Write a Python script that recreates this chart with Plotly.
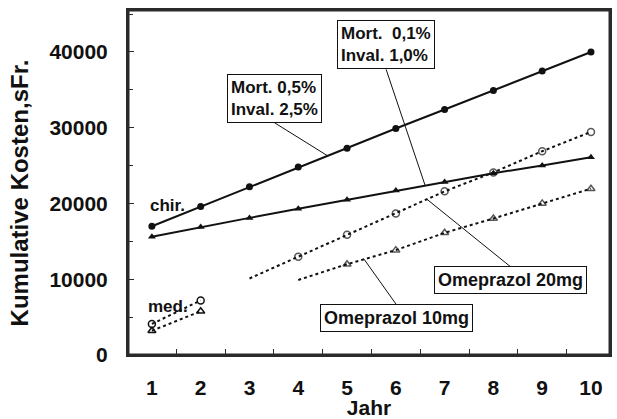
import numpy as np
import plotly.graph_objects as go

years = [1, 2, 3, 4, 5, 6, 7, 8, 9, 10]
chir_mort05 = [17000, 19600, 22200, 24800, 27300, 29900, 32400, 34900, 37500, 40000]
chir_mort01 = [15600, 16900, 18100, 19300, 20500, 21700, 22850, 24000, 25000, 26100]
ome20 = [4100, 7200, 10100, 12980, 15870, 18670, 21600, 24100, 26900, 29450]
ome10 = [3200, 5770, 7850, 9900, 11990, 13840, 16130, 18020, 20010, 21950]
xtick_labels = ["1", "2", "3", "4", "5", "6", "7", "8", "9", "10"]
ytick_vals = [0, 10000, 20000, 30000, 40000]
ytick_labels = ["0", "10000", "20000", "30000", "40000"]

FONT = "Liberation Sans, Arial, sans-serif"
INK = "#111111"
FRAME = "#2a2a2a"

fig = go.Figure()

# surgical therapy (solid lines)
fig.add_trace(go.Scatter(x=years, y=chir_mort05, mode="lines+markers",
                         line=dict(color=INK, width=2),
                         marker=dict(symbol="circle", size=7, color=INK)))
fig.add_trace(go.Scatter(x=years, y=chir_mort01, mode="lines+markers",
                         line=dict(color=INK, width=2),
                         marker=dict(symbol="triangle-up", size=7, color=INK)))

# medical therapy (dotted lines): first segment (years 1-2) and main segment
def seg(x, y, start, stop):
    return x[start:stop], y[start:stop]

for arr, sym, first_main in [(ome20, "circle-open", 2), (ome10, "triangle-up-open", 3)]:
    xs, ys = seg(years, arr, 0, 2)
    fig.add_trace(go.Scatter(x=xs, y=ys, mode="lines+markers",
                             line=dict(color=INK, width=2, dash="dot"),
                             marker=dict(symbol=sym, size=7, color=INK,
                                         line=dict(width=1.5, color=INK))))
    xs, ys = seg(years, arr, first_main, 10)
    sizes = [0] + [7] * (len(xs) - 1)
    fig.add_trace(go.Scatter(x=xs, y=ys, mode="lines+markers",
                             line=dict(color=INK, width=2, dash="dot"),
                             marker=dict(symbol=sym, size=sizes, color=INK,
                                         line=dict(width=1.5, color=INK))))

def box(text, xv, series, ax, ay, yanchor, size):
    yv = float(np.interp(xv, years, series))
    fig.add_annotation(x=xv, y=yv, text=text, showarrow=True, arrowhead=0,
                       arrowwidth=1, arrowcolor=INK, ax=ax, ay=ay,
                       xanchor="center", yanchor=yanchor,
                       bordercolor=INK, borderwidth=1, borderpad=3,
                       bgcolor="white", align="left",
                       font=dict(family=FONT, size=size, color=INK, weight="bold"))

box("Mort. 0,5%<br>Inval. 2,5%", 4.6, chir_mort05, -53, -33, "bottom", 17)
box("Mort.  0,1%<br>Inval. 1,0%", 6.6, chir_mort01, -39, -116, "bottom", 17)
box("Omeprazol 20mg", 6.64, ome20, 83, 67, "top", 18)
box("Omeprazol 10mg", 5.35, ome10, 32, 45, "top", 18)

lbl_font = dict(family=FONT, size=17, color=INK, weight="bold")
fig.add_annotation(x=0.92, y=19700, text="chir.", showarrow=False,
                   xanchor="left", yanchor="middle", font=lbl_font)
fig.add_annotation(x=0.88, y=6400, text="med.", showarrow=False,
                   xanchor="left", yanchor="middle", font=lbl_font)

# y-axis title
fig.add_annotation(xref="paper", yref="paper", x=-0.225, y=0.47,
                   text="Kumulative Kosten,sFr.", textangle=-90, showarrow=False,
                   xanchor="center", yanchor="middle",
                   font=dict(family=FONT, size=24, color=INK, weight="bold"))

# plot frame
fig.add_shape(type="rect", xref="paper", yref="paper", x0=0, y0=0, x1=1, y1=1,
              line=dict(color=FRAME, width=3), layer="above")

tick_font = dict(family=FONT, size=21, color=INK, weight="bold")

fig.update_layout(
    width=617, height=419,
    margin=dict(l=128, r=5, t=10, b=57),
    paper_bgcolor="white", plot_bgcolor="white",
    showlegend=False,
    xaxis=dict(range=[0.51, 10.39], tickvals=years, ticktext=xtick_labels,
               ticks="", showgrid=False, zeroline=False,
               showline=True, mirror=True, linewidth=2, linecolor=FRAME,
               tickfont=tick_font, ticklabelstandoff=13,
               minor=dict(tick0=0.5, dtick=1, ticks="inside", ticklen=6,
                          tickcolor=FRAME, showgrid=False),
               title=dict(text="Jahr", font=dict(family=FONT, size=21, color=INK, weight="bold"),
                          standoff=0)),
    yaxis=dict(range=[0, 45540], tickvals=ytick_vals, ticktext=ytick_labels,
               ticks="inside", ticklen=6, tickcolor=FRAME,
               showgrid=False, zeroline=False,
               showline=True, mirror=True, linewidth=2, linecolor=FRAME,
               tickfont=tick_font, ticklabelstandoff=14,
               minor=dict(dtick=5000, ticks="inside", ticklen=5,
                          tickcolor=FRAME, showgrid=False)),
)

fig.write_html("out.html")
